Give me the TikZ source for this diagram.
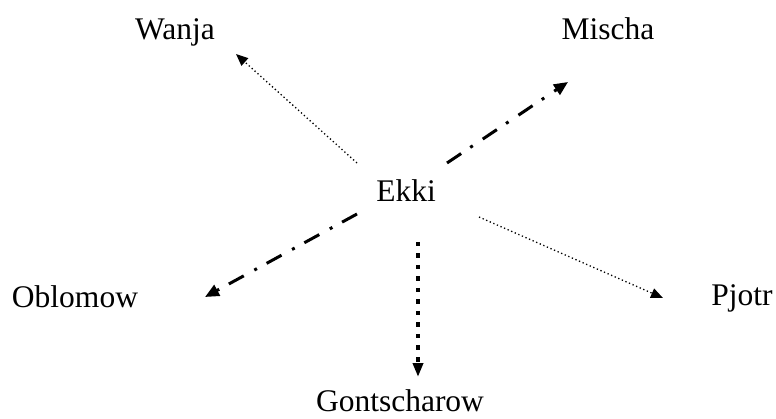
\documentclass[tikz,border=0pt]{standalone}
\usepackage{fontspec}
\setmainfont{Liberation Serif}
\usetikzlibrary{arrows.meta}
\begin{document}
\begin{tikzpicture}[x=1pt,y=-1pt,
  lbl/.style={anchor=base,inner sep=0pt,font=\fontsize{31.5}{37}\selectfont},
  thindot/.style={line width=1.3pt,dash pattern=on 1.3pt off 2.6pt,-{Triangle[length=12pt,width=10pt]}},
  dashdot/.style={line width=3pt,dash pattern=on 17pt off 11pt on 3pt off 12pt,-{Triangle[length=14pt,width=12pt]}},
  bigdot/.style={line width=4.5pt,dash pattern=on 4.5pt off 7pt,-{Triangle[length=14pt,width=10pt]}}]
\useasboundingbox (0,0) rectangle (776,419);
\node[lbl] (ekki) at (406,202) {Ekki};
\node[lbl] (wanja) at (175,40) {Wanja};
\node[lbl] (mischa) at (608,40) {Mischa};
\node[lbl] (oblomow) at (75,308) {Oblomow};
\node[lbl] (pjotr) at (742,306) {Pjotr};
\node[lbl] (gont) at (400,411) {Gontscharow};
\coordinate (sW) at (357,163); \coordinate (eW) at (236,54);
\coordinate (sM) at (447,163); \coordinate (eM) at (568,82);
\coordinate (sO) at (357,214); \coordinate (eO) at (205,297);
\coordinate (sG) at (418,242); \coordinate (eG) at (418,377);
\coordinate (sP) at (479,217); \coordinate (eP) at (663,298);
\draw[thindot] (sW) -- (eW);
\draw[dashdot] (sM) -- (eM);
\draw[dashdot] (sO) -- (eO);
\draw[bigdot] (sG) -- (eG);
\draw[thindot] (sP) -- (eP);
\end{tikzpicture}
\end{document}
